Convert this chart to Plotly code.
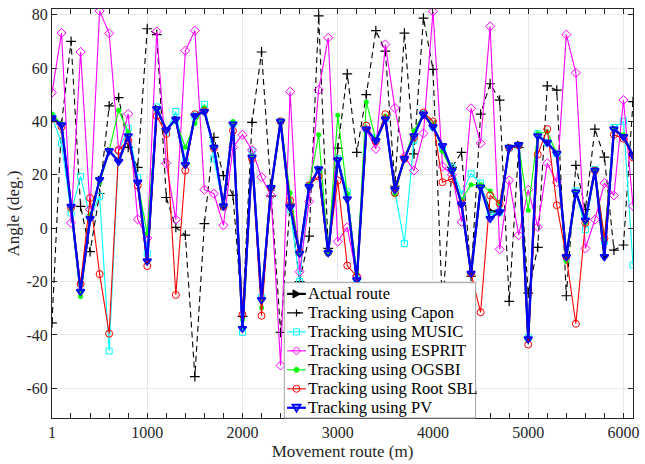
import plotly.graph_objects as go

# Movement route positions (m), one sample every 100 m
route_m = list(range(1, 6102, 100))

actual = [41.3, 38.7, 8.2, -23.7, 3.6, 18.2, 29, 25, 34.6, 17.2, -12.3, 44.8, 36.8, 40.8, 23.8, 42.1,
          43.7, 30.3, 8.3, 39, -37.6, 26.6, -26.8, 15.2, 40, 7.9, -9.4, 15.6, 22.2, -9.2, 25.6, 11,
          -19.4, 37.1, 32.8, 40.8, 14.4, 26, 34.6, 42.7, 38, 30.9, 21.6, 8.9, -16.9, 15.4, 6.4, 6.1,
          30.3, 31.3, -41.5, 34.6, 32.1, 28, -10.7, 13.5, 3, 21.6, -10.7, 37.1, 34.3, 27.2]

capon = [-35.5, 39, 70, 8.2, -8.8, 13, 45.8, 48.9, 30.3, 22.8, 74.7, 72.5, 11.5, 0.3, -2.6, -55.6,
         1.7, 34, 19.7, 12.3, -33, 39.6, 66, 12, -39, 9, -20, -3, 79.5, -7.6, 30, 57.8,
         28.4, 50, 74, 66.3, 15.7, 73.1, 27.8, 78.7, 59.5, -30, 22.8, 28.4, -18, 42.7, 54.1, 48,
         -27.4, 30.3, -24.3, -7.2, 53.3, 51.7, -25.3, 23.5, 7, 37.1, 26.6, -8.2, -6.3, 47.4]

music = [41.8, 31.8, 5.7, 19.4, 4, 12, -46, 29, 37.4, 19, -9.4, 45.4, 36, 43.7, 25, 42,
         46.4, 26, 8, 39, -39, 29, -26, 15, 40, 7, -20, 16, 22, -9, 26, 13.5,
         -19, 37, 33.8, 41, 14, -5.7, 33, 43, 38, 30, 22.8, 12.7, 20.4, 16.9, 5, 6,
         30, 31, -41, 35.5, 32, 28, -11, 14, -0.5, 22, -5, 37.7, 40, -13.8]

esprit = [50.8, 73.1, 2, 66, 7, 81.4, 73, 29, 42.8, 3.3, -3.7, 73.7, 24.3, 3.2, 66.5, 74,
          14.4, 12.9, 1.1, 30.3, 35, 29.3, 19.1, 12.3, -51.4, 51.1, -16.3, 10, 51.8, 71.3, -5, 0.3,
          -18, 37, 29.7, 68.8, 45, 26.8, 21.6, 35.5, 81.2, 23.1, 20, 2.4, 44.9, 31.8, 75.6, -7.9,
          17.9, -2.6, 14.4, 0.5, 24.3, 17.2, 72.5, 58.2, -7.6, 3.2, 16.9, 12.3, 48, 8.3]

ogsbi = [42.8, 39, 7, -25.6, 5, 17, 29, 44.2, 36, 17, -2, 44, 37, 40, 30.3, 39.2,
         45.2, 30, 9, 40, -34.3, 27, -29.8, 15, 40, 13.2, -9, 16, 35, -9, 42.3, 13,
         -17, 47.3, 33, 42, 12.5, 26, 36.5, 43, 39, 28.8, 21, 10.7, 16.3, 16.4, 13.9, 9.3,
         30, 31, 6.7, 35.5, 36, 28, -12.5, 13.5, 2, 22, -4, 37, 35, 27]

root_sbl = [41, 38, 7.7, -20.9, 11.3, -17.2, -39.5, 29.3, 32.8, 16, -14.2, 42, 35.3, -25, 21.6, 42.7,
            43.9, 30, 8, 36.5, -32.4, 26, -32.8, 15, 40, 10.4, -9, 16, 19.4, -9, 17.9, -14,
            -18.1, 38.4, 32.5, 42.7, 13.2, 26, 34, 43.3, 40, 17.2, 18.5, 9.3, -17, -31.5, 12.3, 9.2,
            30, 31, -43.6, 27.6, 37.1, 8.6, -10.7, -35.8, 2, 21.6, -3.8, 35, 33.5, 26.5]

pv = [41.3, 38.7, 8.2, -23.7, 3.6, 18.2, 29, 25, 34.6, 17.2, -12.3, 44.8, 36.8, 40.8, 23.8, 42.1,
      43.7, 30.3, 8.3, 39, -37.6, 26.6, -26.8, 15.2, 40, 7.9, -9.4, 15.6, 22.2, -9.2, 25.6, 11,
      -19.4, 37.1, 32.8, 40.8, 14.4, 26, 34.6, 42.7, 38, 30.9, 21.6, 8.9, -16.9, 15.4, 3.6, 6.1,
      30.3, 31.3, -41.5, 34.6, 32.1, 28, -10.7, 13.5, 3, 21.6, -10.7, 37.1, 34.3, 27.2]

series_names = ["Actual route", "Tracking using Capon", "Tracking using MUSIC",
                "Tracking using ESPRIT", "Tracking using OGSBI", "Tracking using Root SBL",
                "Tracking using PV"]

x_tickvals = [1, 1000, 2000, 3000, 4000, 5000, 6000]
x_ticktext = ["1", "1000", "2000", "3000", "4000", "5000", "6000"]
y_tickvals = [-60, -40, -20, 0, 20, 40, 60, 80]
y_ticktext = ["-60", "-40", "-20", "0", "20", "40", "60", "80"]

FONT = "Liberation Serif, Times New Roman, serif"

# Line and marker styles, one per series
styles = [
    dict(line=dict(color="black", width=2.2),
         marker=dict(symbol="triangle-right", size=7, color="black")),
    dict(line=dict(color="black", width=1.1, dash="6px,4px"),
         marker=dict(symbol="cross-thin", size=7, line=dict(color="black", width=1.2))),
    dict(line=dict(color="#00ffff", width=1.1),
         marker=dict(symbol="square-open", size=6, line=dict(color="#00ffff", width=1))),
    dict(line=dict(color="#ff00ff", width=1.1),
         marker=dict(symbol="diamond-open", size=7, line=dict(color="#ff00ff", width=1))),
    dict(line=dict(color="#00ff00", width=1.1),
         marker=dict(symbol="circle", size=5, color="#00ff00")),
    dict(line=dict(color="#ff0000", width=1.1),
         marker=dict(symbol="circle-open", size=7, line=dict(color="#ff0000", width=1))),
    dict(line=dict(color="#0000ff", width=2.2),
         marker=dict(symbol="triangle-down-open", size=7, line=dict(color="#0000ff", width=1.8))),
]

# Legend key glyphs as pixel-sized shapes (type, geometry, fill, outline width)
key_glyphs = [
    ("path", "M -3.5,-4 L 4,0 L -3.5,4 Z", "black", 1),
    ("path", "M -3.5,0 L 3.5,0 M 0,-3.5 L 0,3.5", None, 1.2),
    ("rect", (-3, -3, 3, 3), None, 1),
    ("path", "M 0,-4 L 4,0 L 0,4 L -4,0 Z", None, 1),
    ("circle", (-2.5, -2.5, 2.5, 2.5), "#00ff00", 1),
    ("circle", (-3.5, -3.5, 3.5, 3.5), None, 1),
    ("path", "M -4,3 L 4,3 L 0,-4 Z", None, 1.8),
]

all_series = [actual, capon, music, esprit, ogsbi, root_sbl, pv]

fig = go.Figure()

for name, values, st in zip(series_names, all_series, styles):
    fig.add_trace(go.Scatter(x=route_m, y=values, name=name, mode="lines+markers",
                             showlegend=False, hoverinfo="skip", **st))

# Legend panel in paper coordinates of the plot area
fig.add_shape(type="rect", xref="paper", yref="paper", x0=0.3998, x1=0.7291, y0=0.0, y1=0.3309,
              layer="above", fillcolor="white", line=dict(color="#a0a0a0", width=1))

row_top_px, row_step_px, plot_h_px = 293.3 - 7, 19.07, 411
samp_x0, samp_x1, samp_xm, text_x = 0.4046, 0.4370, 0.4208, 0.4380
for k, (name, st, glyph) in enumerate(zip(series_names, styles, key_glyphs)):
    yk = 1 - (row_top_px + row_step_px * k) / plot_h_px
    ln = st["line"]
    fig.add_shape(type="line", xref="paper", yref="paper", x0=samp_x0, x1=samp_x1, y0=yk, y1=yk,
                  layer="above",
                  line=dict(color=ln["color"], width=ln["width"], dash=ln.get("dash", "solid")))
    kind, geom, fill, lw = glyph
    gshape = dict(xref="paper", yref="paper", xsizemode="pixel", ysizemode="pixel",
                  xanchor=samp_xm, yanchor=yk, layer="above",
                  line=dict(color=ln["color"], width=lw),
                  fillcolor=fill if fill else "rgba(0,0,0,0)")
    if kind == "path":
        fig.add_shape(type="path", path=geom, **gshape)
    else:
        fig.add_shape(type=kind, x0=geom[0], y0=geom[1], x1=geom[2], y1=geom[3], **gshape)
    fig.add_annotation(x=text_x, y=yk, xref="paper", yref="paper", text=name, showarrow=False,
                       xanchor="left", yanchor="middle",
                       font=dict(family=FONT, size=16.5, color="black"))

axis_common = dict(
    showline=True, linecolor="#262626", linewidth=1, mirror="ticks",
    ticks="inside", tickcolor="#262626", ticklen=5, tickwidth=1,
    showgrid=True, gridcolor="#e8e8e8", gridwidth=1, zeroline=False,
    tickfont=dict(family=FONT, size=16, color="#262626"),
)

fig.update_layout(
    xaxis=dict(
        range=[1, 6101], tickmode="array", tickvals=x_tickvals, ticktext=x_ticktext,
        minor=dict(dtick=200, tick0=0, ticks="inside", ticklen=5, tickcolor="#262626", showgrid=False),
        title=dict(text="Movement route (m)", font=dict(family=FONT, size=17, color="#262626"),
                   standoff=4),
        **axis_common),
    yaxis=dict(
        range=[-71.1, 82.1], tickmode="array", tickvals=y_tickvals, ticktext=y_ticktext,
        title=dict(text="Angle (deg.)", font=dict(family=FONT, size=17, color="#262626"),
                   standoff=2),
        **axis_common),
    width=645, height=464,
    margin=dict(l=52, r=6, t=7, b=46),
    paper_bgcolor="white", plot_bgcolor="white",
    font=dict(family=FONT, color="black"),
    showlegend=False,
)

fig.write_html("out.html")
